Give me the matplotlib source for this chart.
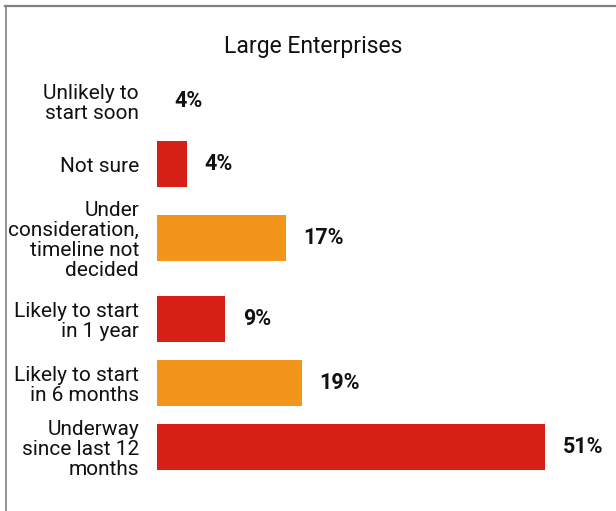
import matplotlib.pyplot as plt
from matplotlib.lines import Line2D

plt.rcParams['font.family'] = ['Roboto', 'DejaVu Sans']

categories = ["Unlikely to\nstart soon",
              "Not sure",
              "Under\nconsideration,\ntimeline not\ndecided",
              "Likely to start\nin 1 year",
              "Likely to start\nin 6 months",
              "Underway\nsince last 12\nmonths"]
values = [4, 4, 17, 9, 19, 51]
bar_colors = ["white", "#d62016", "#f4951b", "#d62016", "#f4951b", "#d62016"]

# row centres in pixels from the top, rows with more label lines get more room
row_y = [101, 164, 238, 319, 383, 447]

W, H = 616, 511
fig = plt.figure(figsize=(W / 100, H / 100), dpi=100)

px_per_pct = 7.61
x0 = 157
xmax = 60
ax = fig.add_axes([x0 / W, 0, xmax * px_per_pct / W, 1])
ax.set_xlim(0, xmax)
ax.set_ylim(H, 0)

ax.barh(row_y, values, height=46, color=bar_colors)

for v, y, c in zip(values, row_y, bar_colors):
    # the blank bar keeps its label next to the axis
    xpos = 0 if c == "white" else v
    ax.annotate(f"{v}%", (xpos, y), xytext=(12.5, 0), textcoords="offset points",
                ha="left", va="center", fontsize=15.5, fontweight="bold", color="#111111")

ax.set_yticks(row_y)
ax.set_yticklabels(categories, fontsize=15, linespacing=1.05, color="#111111")
ax.tick_params(axis="y", length=0, pad=13)
ax.set_xticks([])
for s in ax.spines.values():
    s.set_visible(False)

fig.text(313 / W, 1 - 46 / H, "Large Enterprises", ha="center", va="center",
         fontsize=16.5, color="#111111")

# grey frame along the top and left edges
fig.add_artist(Line2D([5 / W, 1], [1 - 6.5 / H, 1 - 6.5 / H], color="#808080", lw=1.6))
fig.add_artist(Line2D([5.5 / W, 5.5 / W], [0, 1 - 6.5 / H], color="#808080", lw=1.2))

fig.savefig("out.png", dpi=100)
